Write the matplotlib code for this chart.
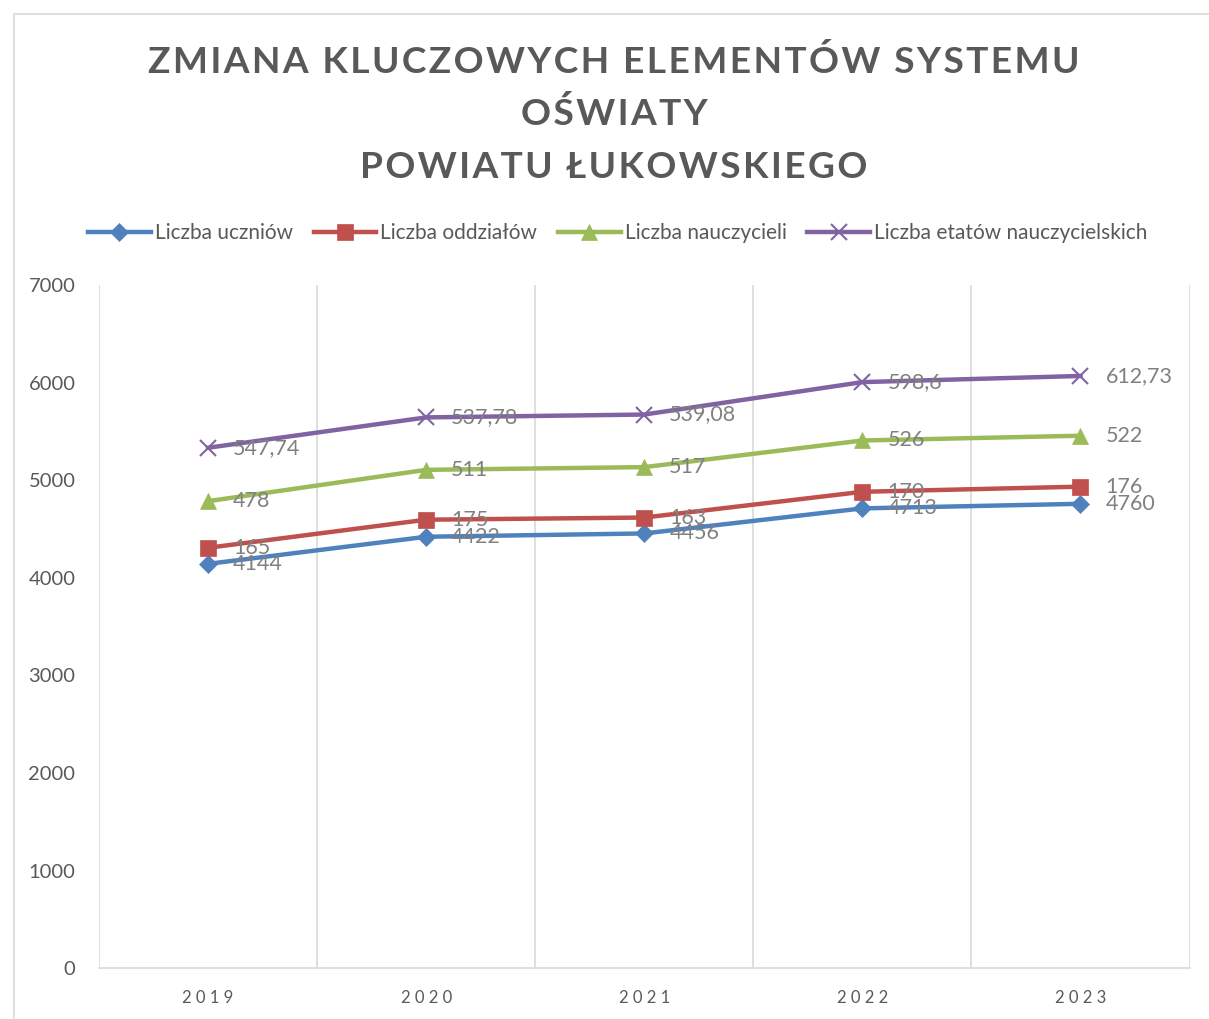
import numpy as np
import matplotlib.pyplot as plt
from matplotlib.patches import Rectangle

# Data (values shown as labels; Excel stacked line chart)
years = ["2019", "2020", "2021", "2022", "2023"]
uczniowie = [4144, 4422, 4456, 4713, 4760]
oddzialy = [165, 175, 163, 170, 176]
nauczyciele = [478, 511, 517, 526, 522]
etaty = [547.74, 537.78, 539.08, 598.6, 612.73]

series_names = ["Liczba uczniów", "Liczba oddziałów", "Liczba nauczycieli",
                "Liczba etatów nauczycielskich"]
title_lines = ["ZMIANA KLUCZOWYCH ELEMENTÓW SYSTEMU", "OŚWIATY", "POWIATU ŁUKOWSKIEGO"]
colors = ["#4F81BD", "#C0504D", "#9BBB59", "#8064A2"]
markers = ["D", "s", "^", "x"]
msizes = [9, 12, 12, 12]

plt.rcParams['font.family'] = ['Lato', 'DejaVu Sans']

fig = plt.figure(figsize=(12.09, 10.19), dpi=100)
ax = fig.add_axes([0.0819, 0.050, 0.902, 0.670])

# chart border
fig.patches.append(Rectangle((14 / 1209, -0.01), 1.0, 1 - 14 / 1019 + 0.01,
                             transform=fig.transFigure, fill=False,
                             edgecolor="#D9D9D9", linewidth=1.2))

x = np.arange(len(years))
data = np.array([uczniowie, oddzialy, nauczyciele, etaty], dtype=float)
stacked = np.cumsum(data, axis=0)

def fmt(v):
    if float(v).is_integer():
        return str(int(v))
    return ("%g" % v).replace(".", ",")

for i in range(4):
    ax.plot(x, stacked[i], color=colors[i], linewidth=3.2, marker=markers[i],
            markersize=msizes[i], markeredgewidth=1.5 if markers[i] == "x" else 0.5,
            label=series_names[i], zorder=3)
    for xi, yi, v in zip(x, stacked[i], data[i]):
        ax.annotate(fmt(v), (xi, yi), xytext=(18, 0), textcoords="offset points",
                    ha="left", va="center", fontsize=15.5, color="#808080", zorder=4)

ax.set_xlim(-0.5, 4.5)
ax.set_ylim(0, 7000)
ax.set_yticks(range(0, 7001, 1000))
ax.set_xticks(x)
ax.set_xticklabels([" ".join(y) for y in years])
ax.tick_params(axis="y", length=0, pad=17, labelsize=14.5, labelcolor="#595959")
ax.tick_params(axis="x", length=0, pad=16, labelsize=12, labelcolor="#595959")

# vertical gridlines at category boundaries
for b in np.arange(-0.5, 4.6, 1.0):
    ax.axvline(b, color="#D9D9D9", linewidth=1.2, zorder=1)

for s in ["top", "right", "left"]:
    ax.spines[s].set_visible(False)
ax.spines["bottom"].set_color("#D9D9D9")
ax.spines["bottom"].set_linewidth(1.2)

# title with letter spacing
for line, yy in zip(title_lines, [0.939, 0.888, 0.836]):
    fig.text(0.508, yy, "\u200a".join(line), ha="center", va="center", fontsize=26.7,
             fontweight="bold", color="#595959")

ax.legend(loc="center", bbox_to_anchor=(0.511, 0.771), bbox_transform=fig.transFigure,
          ncol=4, frameon=False, fontsize=15, handlelength=3.0, handletextpad=0.2,
          columnspacing=1.0, labelcolor="#595959")

fig.savefig("out.png", dpi=100)
